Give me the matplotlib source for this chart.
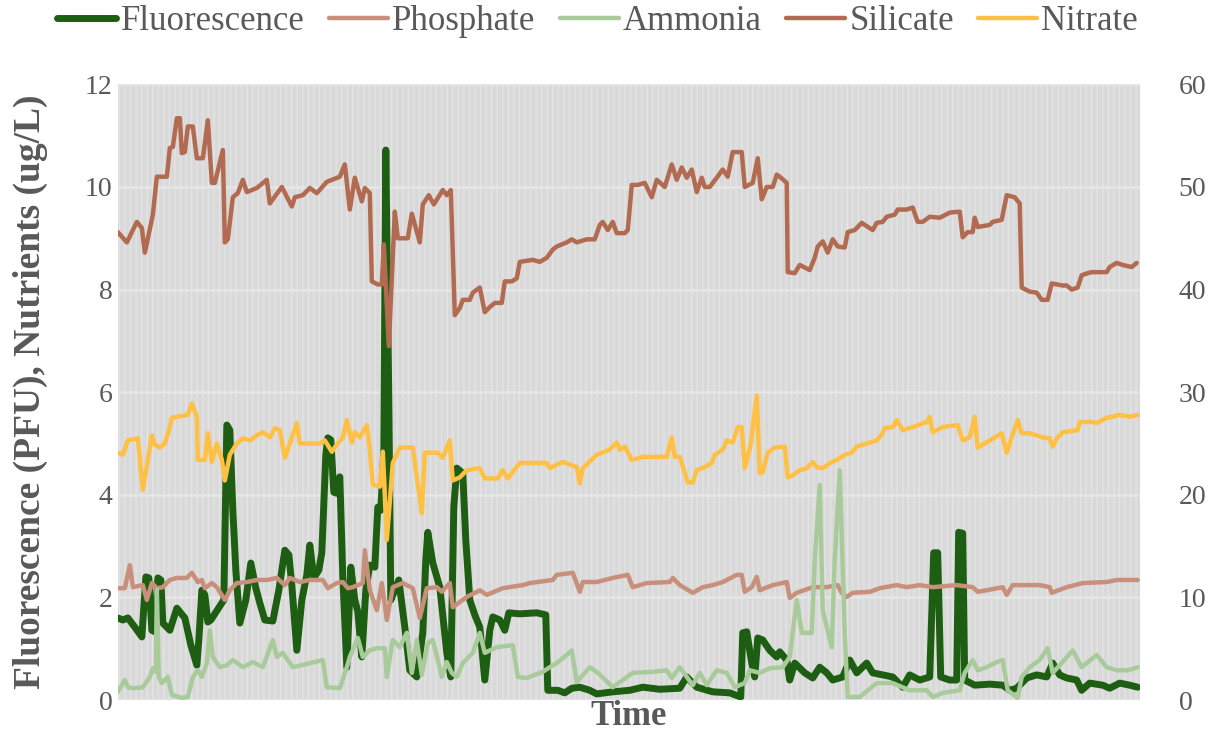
import matplotlib
matplotlib.use("Agg")
import matplotlib.pyplot as plt

# time axis (arbitrary sample time)
# Fluorescence (PFU), left axis
fl_t = [0, 0.5, 1.0, 1.7, 2.4, 2.8, 3.1, 3.4, 3.7, 4.0, 4.3, 4.5, 5.2, 5.9, 6.7, 7.3, 7.9, 8.1, 8.4, 8.7,
        9.0, 9.3, 10.6, 10.9, 11.2, 11.5, 11.8, 12.2, 12.8, 13.3, 13.8, 14.2, 14.7, 15.5, 16.1, 16.7, 17.1,
        17.4, 17.9, 18.4, 18.9, 19.2, 19.6, 20.1, 20.4, 20.8, 21.0, 21.3, 21.6, 21.9, 22.2, 22.5, 22.9,
        23.3, 23.7, 24.0, 24.4, 24.8, 25.2, 25.7, 26.0, 26.3, 26.6, 26.8, 27.1, 27.3, 27.7, 28.1, 28.7,
        29.2, 29.9, 30.5, 30.8, 31.0, 31.5, 32.2, 32.9, 33.3, 33.6, 33.9, 34.5, 34.8, 35.2, 35.7, 36.2,
        36.7, 37.2, 37.5, 38.2, 38.7, 39.1, 40.2, 41.9, 42.8, 43.0, 44.0, 44.7, 45.4, 46.2, 47.2, 47.9,
        49.5, 51.2, 52.5, 54.2, 56.2, 56.9, 57.9, 59.5, 61.2, 62.3, 62.5, 62.9, 63.4, 63.7, 64.0, 64.5,
        65.2, 65.9, 66.2, 66.9, 67.2, 67.7, 68.7, 69.5, 70.2, 70.9, 71.5, 72.5, 73.2, 73.9, 74.9, 75.5,
        76.5, 77.5, 78.5, 79.2, 80.2, 81.2, 81.6, 82.0, 82.3, 83.2, 83.9, 84.1, 84.5, 84.7, 85.7, 87.2,
        88.5, 89.2, 89.9, 90.9, 91.9, 92.9, 93.5, 94.2, 94.9, 95.9, 96.4, 97.2, 98.5, 99.2, 100.2, 101.2,
        102.0]
fl_v = [1.60, 1.56, 1.60, 1.42, 1.23, 2.40, 2.38, 1.36, 1.33, 2.38, 2.34, 1.50, 1.36, 1.79, 1.60, 1.07,
        0.68, 1.17, 2.14, 2.05, 1.52, 1.56, 1.95, 5.36, 5.26, 3.70, 2.53, 1.50, 1.95, 2.67, 2.18, 1.89,
        1.56, 1.54, 2.14, 2.92, 2.83, 2.24, 0.97, 1.95, 2.44, 3.02, 2.38, 2.53, 2.87, 4.78, 5.11, 5.07,
        4.05, 4.03, 4.35, 2.40, 0.64, 2.59, 1.95, 1.72, 0.84, 2.14, 2.63, 2.59, 3.76, 3.70, 4.87, 10.72,
        5.85, 1.95, 2.14, 2.34, 1.42, 0.58, 0.45, 1.31, 2.73, 3.27, 2.67, 2.20, 0.92, 0.45, 3.76, 4.52,
        4.42, 3.12, 1.95, 1.66, 1.42, 0.39, 1.36, 1.62, 1.56, 1.36, 1.70, 1.68, 1.70, 1.66, 0.19, 0.19,
        0.14, 0.23, 0.25, 0.19, 0.12, 0.16, 0.19, 0.25, 0.21, 0.23, 0.45, 0.25, 0.16, 0.14, 0.06, 1.31,
        1.33, 0.72, 0.45, 1.21, 1.17, 0.97, 0.84, 0.94, 0.78, 0.39, 0.72, 0.53, 0.43, 0.64, 0.53, 0.39,
        0.45, 0.78, 0.53, 0.72, 0.53, 0.49, 0.45, 0.25, 0.49, 0.39, 0.45, 2.87, 2.87, 0.45, 0.39, 0.39,
        3.27, 3.25, 0.39, 0.29, 0.31, 0.29, 0.19, 0.23, 0.43, 0.49, 0.45, 0.72, 0.49, 0.43, 0.39, 0.19,
        0.33, 0.29, 0.23, 0.33, 0.29, 0.25]

# Phosphate, left axis
ph_t = [0, 0.7, 1.2, 1.5, 2.5, 2.9, 3.4, 3.9, 4.5, 5.2, 5.9, 6.9, 7.4, 8.0, 8.4, 8.7, 9.4, 9.9, 10.7,
        11.2, 11.9, 12.9, 13.9, 14.9, 15.9, 16.7, 17.2, 18.2, 19.2, 20.5, 21.0, 21.9, 22.5, 23.0, 23.5,
        24.5, 24.7, 25.2, 25.9, 26.4, 26.9, 27.5, 28.5, 29.5, 30.2, 30.9, 31.9, 32.4, 33.2, 33.5, 34.2,
        34.9, 36.2, 36.9, 38.5, 40.5, 41.2, 43.5, 43.9, 45.5, 46.2, 46.5, 47.9, 49.5, 51.0, 51.5, 52.9,
        55.2, 55.5, 56.2, 57.5, 58.5, 59.5, 60.5, 61.9, 62.4, 62.7, 63.4, 63.9, 64.2, 65.5, 66.9, 67.2,
        67.9, 69.5, 70.9, 72.0, 72.4, 72.9, 73.5, 75.2, 76.2, 77.9, 78.9, 80.2, 81.5, 83.9, 85.5, 86.0,
        86.9, 88.5, 88.9, 89.5, 92.2, 93.2, 93.4, 94.9, 96.5, 98.9, 99.9, 102.0]
ph_v = [2.18, 2.18, 2.63, 2.20, 2.24, 1.95, 2.28, 2.18, 2.20, 2.34, 2.38, 2.38, 2.48, 2.30, 2.34, 2.18,
        2.28, 2.20, 1.95, 2.14, 2.28, 2.30, 2.34, 2.34, 2.38, 2.24, 2.38, 2.30, 2.34, 2.34, 2.18, 2.28,
        2.30, 2.18, 2.20, 2.28, 2.92, 2.14, 1.75, 2.28, 1.56, 2.20, 2.28, 2.18, 1.60, 2.18, 2.20, 2.11,
        2.28, 1.81, 1.91, 2.01, 2.14, 2.05, 2.18, 2.24, 2.28, 2.34, 2.44, 2.48, 2.11, 2.30, 2.30, 2.38,
        2.44, 2.20, 2.28, 2.30, 2.38, 2.24, 2.09, 2.20, 2.24, 2.30, 2.44, 2.44, 2.11, 2.20, 2.40, 2.14,
        2.24, 2.30, 1.99, 2.09, 2.20, 2.20, 2.24, 2.09, 2.01, 2.09, 2.11, 2.18, 2.24, 2.20, 2.24, 2.20,
        2.24, 2.20, 2.11, 2.14, 2.20, 2.05, 2.24, 2.24, 2.20, 2.09, 2.20, 2.28, 2.30, 2.34, 2.34]

# Ammonia, left axis
am_t = [0, 0.7, 1.0, 1.5, 2.5, 3.2, 3.5, 3.8, 3.9, 4.1, 4.4, 5.0, 5.4, 6.4, 7.0, 7.5, 8.0, 8.4, 8.9,
        9.2, 9.5, 10.2, 10.9, 11.5, 12.5, 13.5, 14.5, 15.5, 15.9, 16.5, 17.5, 19.2, 20.5, 20.9, 22.2,
        22.9, 23.2, 24.0, 24.5, 25.2, 25.9, 26.7, 26.9, 27.5, 28.2, 28.9, 29.4, 29.9, 30.4, 31.0, 31.5,
        32.0, 32.4, 32.9, 33.4, 33.9, 34.5, 35.5, 36.2, 36.7, 37.9, 39.5, 40.0, 40.9, 42.5, 43.2, 43.9,
        44.9, 45.4, 45.9, 47.2, 48.0, 49.5, 50.5, 51.5, 53.5, 54.9, 55.4, 56.2, 57.5, 58.2, 58.9, 59.9,
        60.9, 61.7, 62.7, 63.2, 64.2, 65.2, 66.5, 67.2, 67.9, 68.4, 69.4, 69.7, 70.2, 70.5, 71.4, 71.7,
        72.2, 72.7, 73.0, 74.2, 75.9, 77.5, 79.2, 80.9, 81.5, 82.5, 84.2, 84.7, 85.5, 86.0, 86.9, 87.9,
        88.5, 89.0, 90.0, 90.4, 91.2, 92.2, 93.0, 93.5, 94.4, 95.5, 96.4, 97.9, 98.9, 99.9, 101.0, 102.0]
am_v = [0.16, 0.39, 0.25, 0.23, 0.25, 0.45, 0.62, 0.55, 2.15, 0.45, 0.33, 0.45, 0.10, 0.04, 0.06, 0.45,
        0.58, 0.45, 0.72, 1.36, 0.84, 0.64, 0.68, 0.78, 0.64, 0.74, 0.64, 1.17, 0.84, 0.92, 0.64, 0.72,
        0.78, 0.25, 0.23, 0.64, 0.84, 1.21, 0.84, 0.97, 1.01, 1.01, 0.45, 1.17, 1.03, 1.31, 0.53, 1.17,
        0.49, 1.11, 1.17, 0.78, 0.45, 0.74, 0.53, 0.45, 0.72, 0.92, 1.31, 0.92, 1.03, 1.07, 0.45, 0.43,
        0.55, 0.64, 0.72, 0.88, 0.97, 0.35, 0.64, 0.53, 0.25, 0.39, 0.53, 0.55, 0.58, 0.43, 0.64, 0.29,
        0.53, 0.29, 0.58, 0.53, 0.25, 0.33, 0.58, 0.53, 0.62, 0.64, 0.84, 1.95, 1.31, 1.31, 2.73, 4.19,
        1.75, 1.03, 2.73, 4.48, 1.31, 0.06, 0.06, 0.33, 0.33, 0.19, 0.19, 0.06, 0.14, 0.19, 0.53, 0.78,
        0.58, 0.64, 0.74, 0.78, 0.19, 0.04, 0.45, 0.64, 0.78, 1.01, 0.53, 0.72, 0.97, 0.64, 0.88, 0.64,
        0.58, 0.58, 0.64]

# Silicate (ug/L), right axis
si_t = [0, 0.9, 1.9, 2.4, 2.7, 3.5, 3.9, 4.9, 5.2, 5.5, 5.9, 6.2, 6.4, 6.7, 7.0, 7.5, 7.9, 8.5, 9.0,
        9.4, 9.7, 10.5, 10.7, 11.0, 11.5, 12.0, 12.5, 12.9, 13.9, 14.9, 15.2, 16.4, 17.4, 17.7, 18.5,
        19.2, 19.9, 20.9, 22.2, 22.7, 23.2, 23.7, 24.4, 24.7, 25.2, 25.4, 26.0, 26.4, 26.6, 27.1, 27.7,
        28.0, 29.0, 29.4, 30.2, 30.5, 31.1, 31.6, 32.5, 32.9, 33.3, 33.7, 34.2, 34.5, 35.2, 35.5, 36.2,
        36.7, 37.2, 37.7, 38.4, 38.7, 39.4, 39.9, 40.2, 41.5, 42.2, 42.9, 43.5, 43.9, 44.9, 45.4, 45.9,
        46.9, 47.7, 48.2, 48.5, 49.0, 49.5, 49.9, 50.7, 51.0, 51.4, 52.0, 52.7, 53.4, 53.9, 54.7, 55.4,
        55.9, 56.4, 56.9, 57.4, 57.9, 58.4, 58.7, 59.2, 59.9, 60.5, 61.0, 61.5, 62.4, 62.7, 63.5, 64.0,
        64.4, 64.9, 65.5, 65.9, 66.2, 66.9, 67.0, 67.7, 68.2, 69.2, 69.7, 70.0, 70.5, 71.0, 71.5, 72.0,
        72.7, 73.0, 73.7, 74.4, 75.5, 75.9, 76.5, 76.9, 77.7, 78.0, 78.9, 79.5, 80.0, 80.5, 81.2, 82.2,
        83.2, 84.2, 84.5, 85.0, 85.5, 85.7, 86.0, 87.2, 87.5, 88.4, 88.9, 89.7, 90.2, 90.4, 91.2, 91.9,
        92.4, 93.0, 93.4, 94.5, 94.9, 95.4, 96.0, 96.4, 97.0, 97.4, 98.9, 99.2, 99.9, 100.5, 101.4, 101.9]
si_v = [45.6, 44.6, 46.6, 46.0, 43.6, 47.3, 51.0, 51.0, 53.8, 53.9, 56.7, 56.7, 53.3, 53.4, 55.9, 55.9,
        52.8, 52.8, 56.5, 50.4, 50.4, 53.6, 44.6, 44.9, 49.0, 49.4, 50.7, 49.5, 49.9, 50.7, 48.4, 50.0,
        48.1, 49.0, 49.2, 49.9, 49.4, 50.5, 51.0, 52.2, 47.8, 50.9, 48.6, 49.9, 49.4, 40.8, 40.5, 40.5,
        44.4, 34.5, 47.6, 45.0, 45.0, 47.4, 44.6, 48.3, 49.2, 48.3, 49.7, 49.2, 49.7, 37.5, 38.2, 39.0,
        39.0, 39.7, 40.2, 37.8, 38.3, 38.7, 38.7, 40.8, 40.8, 41.1, 42.7, 42.9, 42.7, 43.1, 43.9, 44.2,
        44.6, 44.9, 44.6, 44.9, 44.9, 46.3, 46.6, 45.8, 46.6, 45.5, 45.5, 45.8, 50.2, 50.2, 50.4, 49.0,
        50.7, 50.0, 52.2, 50.7, 51.9, 50.9, 51.7, 49.5, 50.9, 50.0, 50.0, 50.9, 51.7, 51.0, 53.4, 53.4,
        50.0, 50.4, 52.8, 48.8, 50.0, 50.0, 51.2, 51.0, 50.4, 41.7, 41.6, 42.4, 41.9, 43.1, 44.2, 44.7,
        43.6, 44.9, 44.2, 44.1, 45.6, 45.8, 46.5, 45.8, 46.5, 46.6, 47.1, 47.3, 47.8, 47.8, 48.0, 46.6,
        46.6, 47.1, 47.0, 47.5, 47.6, 45.1, 45.6, 45.6, 47.0, 46.1, 46.3, 46.6, 46.8, 49.2, 49.0, 48.4,
        40.2, 39.8, 39.7, 39.0, 39.0, 40.6, 40.4, 40.4, 40.0, 40.2, 41.4, 41.6, 41.7, 41.7, 42.2, 42.6,
        42.4, 42.2, 42.6]

# Nitrate (ug/L), right axis
ni_t = [0, 0.5, 1.0, 2.0, 2.5, 3.0, 3.4, 3.7, 4.2, 4.7, 5.2, 5.4, 7.0, 7.4, 7.9, 8.0, 8.7, 9.0, 9.4,
        9.9, 10.4, 10.7, 11.2, 11.9, 12.5, 13.2, 13.9, 14.5, 15.2, 15.7, 16.2, 16.7, 17.2, 17.9, 18.2,
        20.2, 20.7, 21.4, 21.9, 22.5, 22.9, 23.4, 23.7, 24.2, 24.9, 25.2, 25.5, 26.2, 26.5, 26.9, 27.5,
        28.2, 29.5, 30.4, 30.7, 32.0, 32.5, 33.2, 33.5, 34.2, 34.9, 36.2, 36.7, 38.0, 38.5, 39.0, 40.2,
        42.9, 43.2, 44.5, 45.9, 46.2, 46.5, 47.9, 49.2, 49.9, 50.2, 50.7, 51.4, 52.5, 54.9, 55.4, 55.7,
        56.2, 57.0, 57.5, 57.9, 58.7, 59.4, 59.7, 60.5, 60.9, 61.5, 62.0, 62.4, 62.7, 63.3, 63.9, 64.2,
        64.5, 65.0, 65.7, 66.7, 67.0, 67.5, 68.2, 68.9, 69.5, 69.9, 70.5, 71.4, 71.9, 72.7, 73.4, 73.9,
        74.9, 75.9, 76.5, 76.7, 77.5, 77.9, 78.5, 79.5, 80.9, 81.2, 81.5, 82.5, 84.0, 84.5, 85.2, 85.7,
        86.0, 87.2, 88.4, 88.9, 89.4, 90.0, 90.4, 91.2, 92.5, 93.2, 93.5, 93.9, 94.5, 96.0, 96.2, 97.4,
        97.9, 98.9, 99.5, 100.2, 101.2, 102.0]
ni_v = [24.1, 23.9, 25.3, 25.5, 20.5, 23.4, 25.8, 24.9, 24.6, 25.0, 26.6, 27.5, 27.8, 28.9, 27.6, 23.4,
        23.4, 26.0, 23.2, 25.0, 23.4, 21.4, 23.9, 25.0, 25.5, 25.3, 25.8, 26.1, 25.6, 26.5, 26.3, 23.6,
        25.0, 27.0, 25.0, 25.0, 25.3, 24.2, 24.9, 25.6, 27.3, 25.1, 26.1, 25.6, 26.8, 24.4, 21.0, 20.8,
        24.2, 15.6, 23.1, 24.6, 24.6, 18.2, 24.1, 24.1, 23.6, 25.3, 21.4, 21.7, 22.4, 22.6, 21.6, 21.6,
        22.4, 21.6, 23.1, 23.1, 22.6, 23.2, 22.7, 21.1, 22.6, 23.9, 24.4, 25.1, 24.4, 24.7, 23.4, 23.7,
        23.7, 25.6, 23.7, 23.7, 21.2, 21.2, 22.4, 22.7, 23.1, 23.9, 24.4, 25.3, 25.1, 26.6, 26.6, 22.6,
        24.9, 29.7, 22.1, 22.2, 24.1, 24.6, 24.7, 21.7, 21.9, 22.4, 22.6, 23.2, 22.7, 22.6, 23.2, 23.4,
        23.9, 24.1, 24.7, 25.0, 25.3, 26.0, 26.5, 26.6, 27.3, 26.3, 26.6, 27.1, 27.6, 26.1, 26.6, 26.8,
        25.3, 25.6, 27.6, 24.6, 25.3, 26.0, 24.1, 25.6, 27.3, 26.0, 26.0, 25.6, 25.5, 24.7, 25.5, 26.1,
        26.3, 27.1, 27.1, 27.0, 27.5, 27.6, 27.8, 27.6, 27.8]

col_fl = "#1E5E12"
col_ph = "#C8907C"
col_am = "#A9CB9C"
col_si = "#B26A50"
col_ni = "#FFC145"
txt = "#595959"

plt.rcParams["font.family"] = ["Liberation Serif", "DejaVu Serif"]
plt.rcParams["hatch.color"] = "#ECECEC"
plt.rcParams["hatch.linewidth"] = 1.0

fig = plt.figure(figsize=(12.15, 7.4), dpi=100)
ax = fig.add_axes([0.097, 0.054, 0.841, 0.832])
ax.set_facecolor("#D9D9D9")
ax.patch.set_hatch("|||")
ax.patch.set_edgecolor("#E4E4E4")
ax.set_axisbelow(True)
ax.yaxis.grid(True, color="#E6E6E6", lw=1.8)

kw = dict(solid_capstyle="round", solid_joinstyle="round")
l1, = ax.plot(fl_t, fl_v, color=col_fl, lw=5, label="Fluorescence", **kw)
l2, = ax.plot(ph_t, ph_v, color=col_ph, lw=3.2, label="Phosphate", **kw)
l3, = ax.plot(am_t, am_v, color=col_am, lw=3.2, label="Ammonia", **kw)

ax2 = ax.twinx()
l4, = ax2.plot(si_t, si_v, color=col_si, lw=3.2, label="Silicate", **kw)
l5, = ax2.plot(ni_t, ni_v, color=col_ni, lw=3.2, label="Nitrate", **kw)

ax.set_xlim(0, 102.2)
ax.set_ylim(0, 12)
ax2.set_ylim(0, 60)
ax.set_yticks(range(0, 13, 2))
ax2.set_yticks(range(0, 61, 10))
ax.set_xticks([])

for a in (ax, ax2):
    for s in a.spines.values():
        s.set_visible(False)
ax.tick_params(axis="y", length=0, labelsize=20, labelcolor=txt, pad=4)
ax2.tick_params(axis="y", length=0, labelsize=20, labelcolor=txt, pad=28)

ax.set_ylabel("Fluorescence (PFU), Nutrients (ug/L)", fontsize=27, fontweight="bold",
              color=txt, labelpad=26)
ax.set_xlabel("Time", fontsize=25, fontweight="bold", color=txt, labelpad=0)

fig.legend(handles=[l1, l2, l3, l4, l5], loc="upper center", bbox_to_anchor=(0.492, 1.035),
           ncol=5, frameon=False, fontsize=25, labelcolor=txt, handlelength=1.7,
           handletextpad=0.12, columnspacing=0.7)

fig.savefig("out.png", dpi=100)
